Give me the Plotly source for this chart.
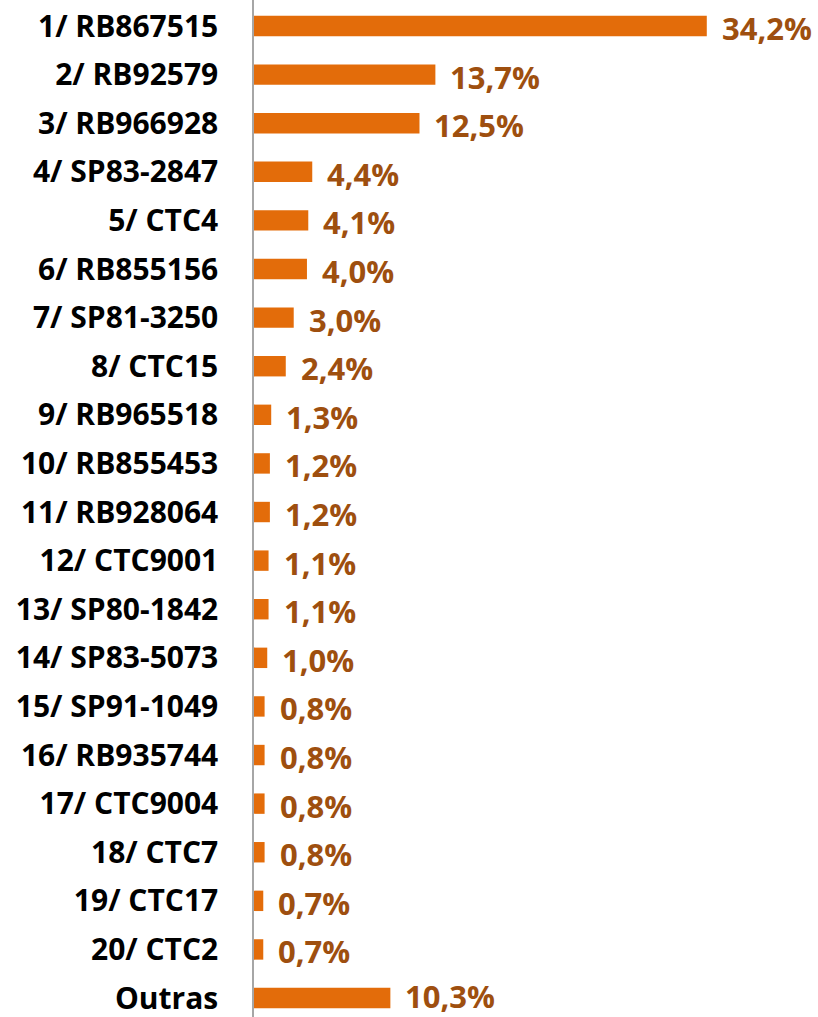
import plotly.graph_objects as go

categories = ["1/ RB867515", "2/ RB92579", "3/ RB966928", "4/ SP83-2847", "5/ CTC4",
              "6/ RB855156", "7/ SP81-3250", "8/ CTC15", "9/ RB965518", "10/ RB855453",
              "11/ RB928064", "12/ CTC9001", "13/ SP80-1842", "14/ SP83-5073", "15/ SP91-1049",
              "16/ RB935744", "17/ CTC9004", "18/ CTC7", "19/ CTC17", "20/ CTC2", "Outras"]
values = [34.2, 13.7, 12.5, 4.4, 4.1, 4.0, 3.0, 2.4, 1.3, 1.2, 1.2, 1.1, 1.1, 1.0,
          0.8, 0.8, 0.8, 0.8, 0.7, 0.7, 10.3]
value_labels = [f"{v:.1f}%".replace(".", ",") for v in values]

BAR = "#E36C0A"
TXT = "#9E4F0F"

fig = go.Figure(go.Bar(
    x=values, y=categories, orientation="h",
    marker=dict(color=BAR, line=dict(width=0)),
    width=0.42,
    hoverinfo="skip",
))

n = len(categories)
for i, (c, v, t) in enumerate(zip(categories, values, value_labels)):
    fig.add_annotation(x=v, y=c, xref="x", yref="y", text=t, showarrow=False,
                       xanchor="left", yanchor="middle", xshift=14,
                       yshift=(2 if i == n - 1 else -2),
                       valign="middle", borderpad=0,
                       font=dict(family="Open Sans", size=31, color=TXT, weight="bold"))

fig.update_layout(
    width=818, height=1017,
    margin=dict(l=254, r=0, t=0, b=0, autoexpand=False),
    paper_bgcolor="white", plot_bgcolor="white",
    showlegend=False,
    xaxis=dict(range=[0, 42.6], visible=False, fixedrange=True, automargin=False),
    yaxis=dict(
        type="category", categoryorder="array", categoryarray=categories,
        range=[20.39, -0.535], automargin=False,
        showline=True, linecolor="#A6A6A6", linewidth=1.5,
        showgrid=False, zeroline=False, ticks="", ticklabelstandoff=28,
        tickfont=dict(family="Open Sans", size=30, color="#000000", weight="bold"),
    ),
)

fig.write_html("out.html", config={"displayModeBar": False},
               post_script="document.body.style.margin='0';document.body.style.overflow='hidden';")
